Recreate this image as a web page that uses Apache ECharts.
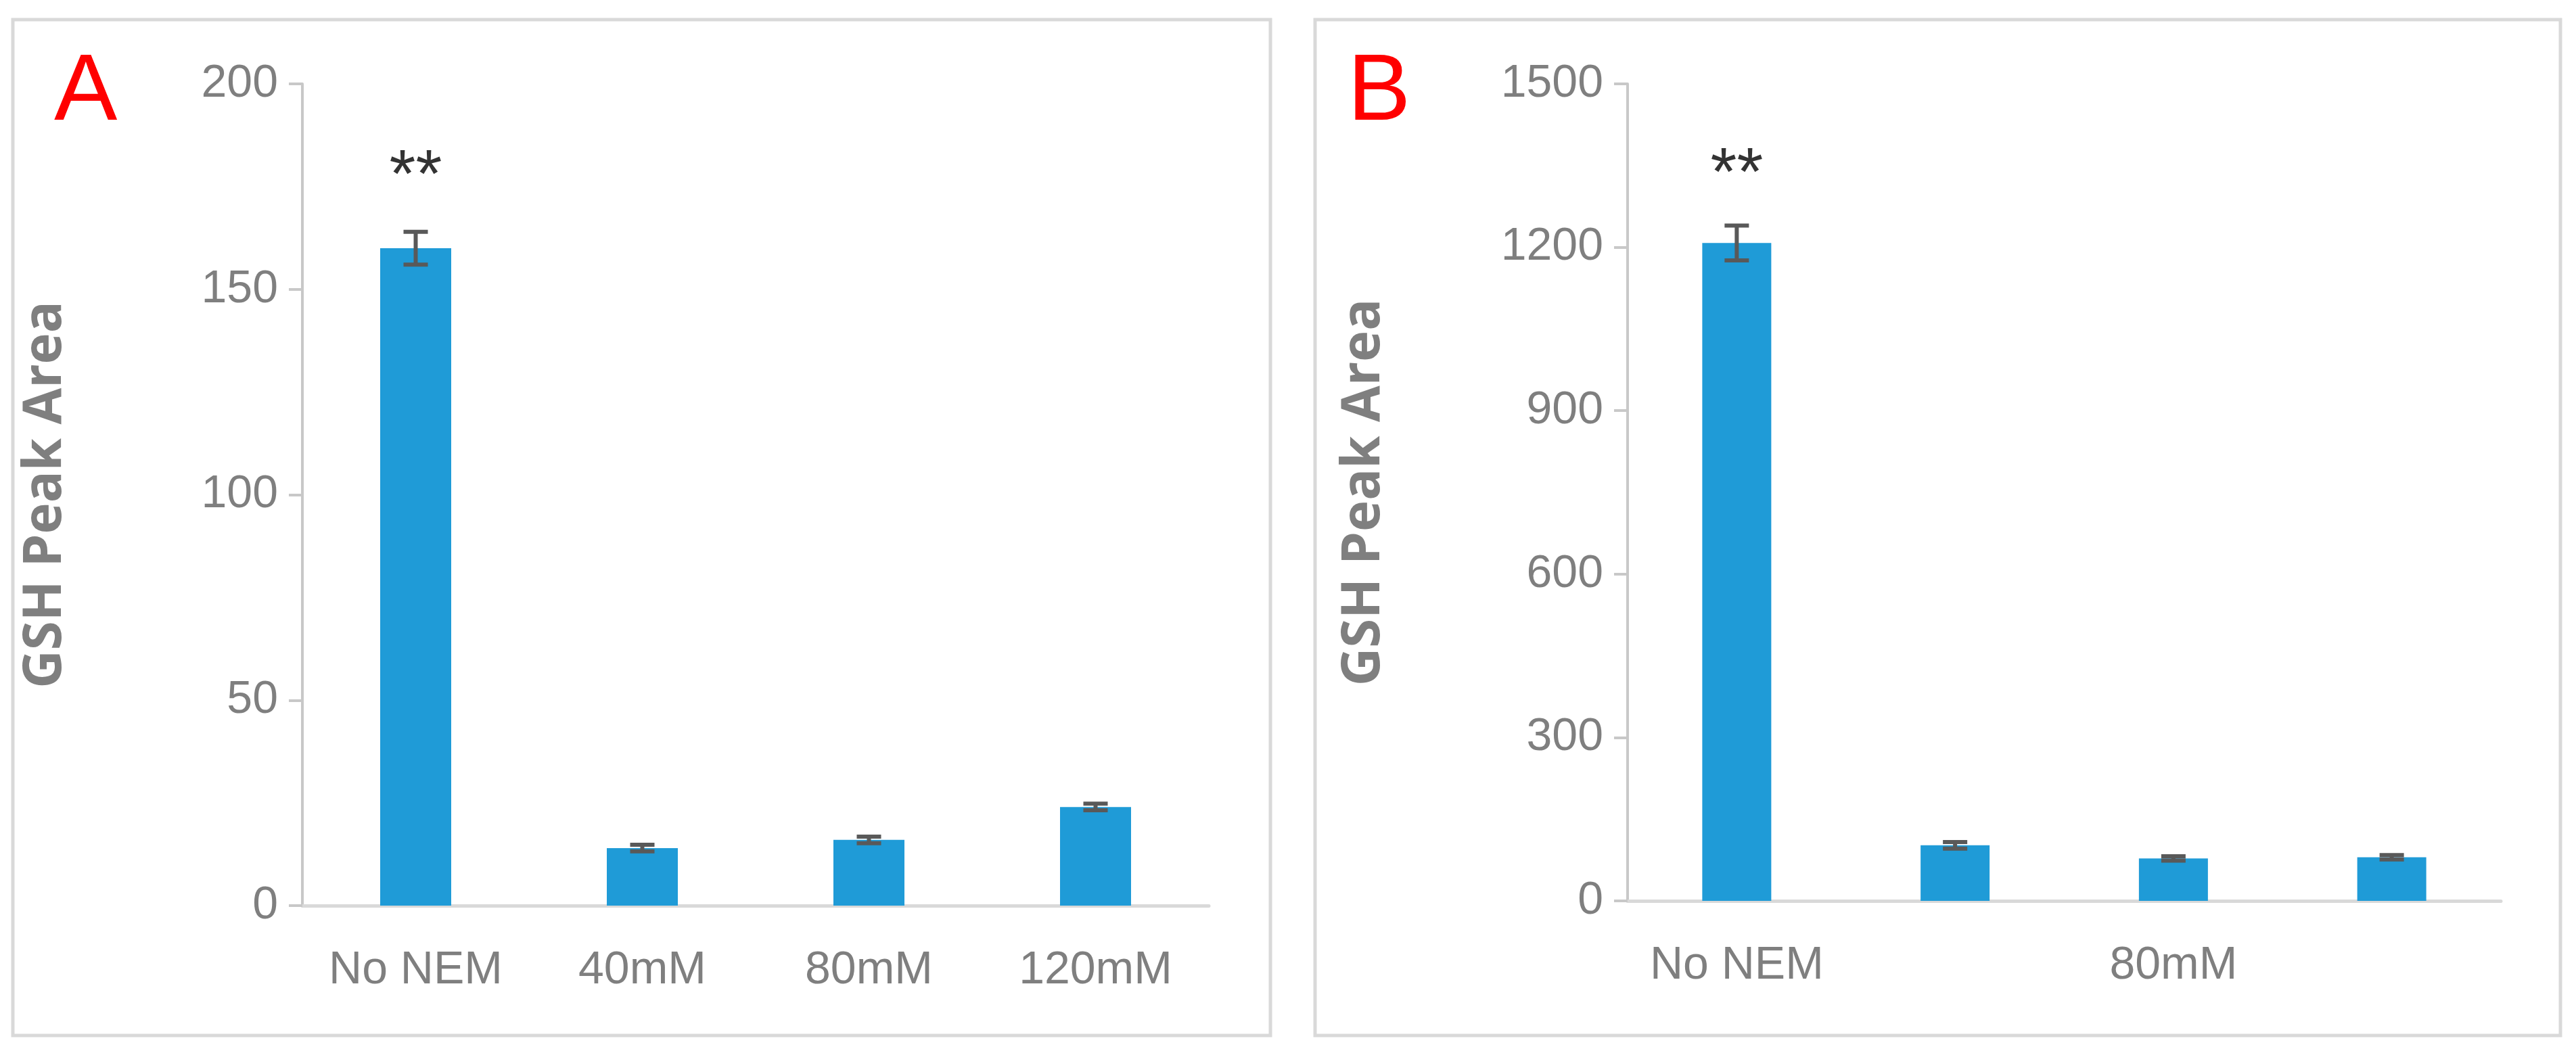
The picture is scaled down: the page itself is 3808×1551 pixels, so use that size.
<!DOCTYPE html>
<html><head><meta charset="utf-8">
<script src="https://cdn.jsdelivr.net/npm/echarts@6/dist/echarts.min.js"></script>
<style>html,body{margin:0;background:#fff}#c{width:3808px;height:1551px}</style>
</head><body><div id="c"></div>
<script>
var categories = ['No NEM','40mM','80mM','120mM'];
var valuesA = [160, 14, 16, 24];
var errorsA = [4, 0.8, 0.8, 0.8];
var valuesB = [1208, 102, 78, 80];
var errorsB = [32, 6, 4, 4];
var starA = [[0, 177]];
var starB = [[0, 1330]];

var font = '"Liberation Sans Narrow","Liberation Sans",sans-serif';
var gray = '#7f7f7f';

function errItem(errs){
	return function(params, api){
		var i = api.value(0), v = api.value(1), e = errs[i];
		var hi = api.coord([i, v + e]), lo = api.coord([i, v - e]);
		var w = 18, st = {stroke:'#595959', lineWidth:6};
		return {type:'group', children:[
			{type:'line', shape:{x1:hi[0],y1:hi[1],x2:lo[0],y2:lo[1]}, style:st},
			{type:'line', shape:{x1:hi[0]-w,y1:hi[1],x2:hi[0]+w,y2:hi[1]}, style:st},
			{type:'line', shape:{x1:lo[0]-w,y1:lo[1],x2:lo[0]+w,y2:lo[1]}, style:st}
		]};
	};
}

function yAxis(idx, max, step){
	return {gridIndex:idx, type:'value', min:0, max:max, interval:step,
		name:'GSH Peak Area', nameLocation:'middle', nameGap:idx ? 350 : 340,
		nameTextStyle:{fontSize:78, fontWeight:'bold', color:gray, fontFamily:'"Open Sans",sans-serif'},
		axisLine:{show:true, lineStyle:{color:'#c8c8c8', width:4}},
		axisTick:{show:true, length:20, lineStyle:{color:'#c8c8c8', width:4}},
		axisLabel:{fontSize:68, color:gray, fontFamily:font, margin:36,
			formatter:function(v){return String(v);}},
		splitLine:{show:false}};
}
function xAxis(idx){
	return {gridIndex:idx, type:'category', data:categories,
		axisLine:{lineStyle:{color:'#d9d9d9', width:5}}, axisTick:{show:false},
		axisLabel:{fontSize:68, color:gray, fontFamily:font, margin:62}};
}

var option = {
	animation:false,
	graphic:[
		{type:'rect', shape:{x:19,y:29,width:1859,height:1502}, style:{fill:'none', stroke:'#d9d9d9', lineWidth:5}},
		{type:'rect', shape:{x:1944,y:29,width:1841,height:1502}, style:{fill:'none', stroke:'#d9d9d9', lineWidth:5}},
		{type:'text', left:80, top:68, style:{text:'A', fill:'#ff0000', font:'140px "Liberation Sans Narrow","Liberation Sans"'}},
		{type:'text', left:1992, top:68, style:{text:'B', fill:'#ff0000', font:'140px "Liberation Sans Narrow","Liberation Sans"'}}
	],
	grid:[
		{left:447, width:1340, top:124, height:1215},
		{left:2406, width:1291, top:124, height:1208}
	],
	xAxis:[xAxis(0), xAxis(1)],
	yAxis:[yAxis(0, 200, 50), yAxis(1, 1500, 300)],
	series:[
		{type:'bar', xAxisIndex:0, yAxisIndex:0, data:valuesA, barWidth:105, itemStyle:{color:'#1f9bd7'}},
		{type:'custom', xAxisIndex:0, yAxisIndex:0, renderItem:errItem(errorsA),
			data:valuesA.map(function(v,i){return [i,v];}), z:5},
		{type:'scatter', xAxisIndex:0, yAxisIndex:0, data:starA, symbolSize:0,
			label:{show:true, formatter:'**', position:'inside', fontSize:100, color:'#000', fontFamily:font}},
		{type:'bar', xAxisIndex:1, yAxisIndex:1, data:valuesB, barWidth:102, itemStyle:{color:'#1f9bd7'}},
		{type:'custom', xAxisIndex:1, yAxisIndex:1, renderItem:errItem(errorsB),
			data:valuesB.map(function(v,i){return [i,v];}), z:5},
		{type:'scatter', xAxisIndex:1, yAxisIndex:1, data:starB, symbolSize:0,
			label:{show:true, formatter:'**', position:'inside', fontSize:100, color:'#000', fontFamily:font}}
	]
};
var myChart = echarts.init(document.getElementById('c'));
myChart.setOption(option);
</script></body></html>
